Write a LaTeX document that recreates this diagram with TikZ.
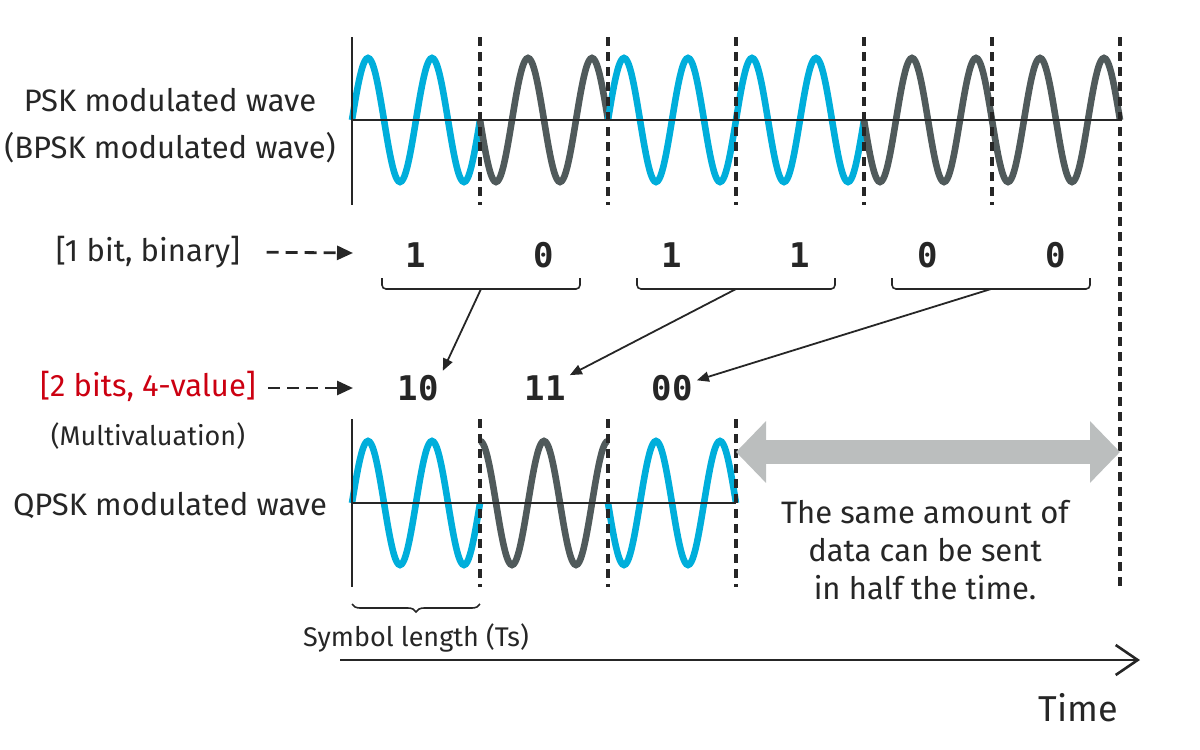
\documentclass[tikz,border=0pt]{standalone}
\usepackage{fontspec}
\setmainfont{Fira Sans}
\newfontfamily\bitfont{DejaVu Sans Mono}
\usetikzlibrary{arrows.meta, positioning, decorations.pathreplacing}
\definecolor{wavecyan}{RGB}{0,174,219}
\definecolor{wavedark}{RGB}{80,90,91}
\definecolor{spangray}{RGB}{187,190,190}
\definecolor{labelred}{RGB}{204,0,17}
\tikzset{
  lbl/.style={font=\fontsize{15.5}{19}\selectfont, text=black!85, inner sep=1pt},
  smalllbl/.style={lbl, font=\fontsize{13.5}{16}\selectfont},
  bit/.style={font=\bitfont\bfseries\fontsize{17}{20}\selectfont, text=black!85, inner sep=2pt},
  wave/.style={line width=3.3pt},
  axisline/.style={line width=1.3pt, draw=black!85},
  sepline/.style={line width=1.8pt, draw=black!85, dash pattern=on 4.5pt off 3pt},
  arrow/.style={-{Triangle[length=6pt,width=5pt]}, line width=0.9pt, draw=black!85},
  dasharrow/.style={-{Triangle[length=8pt,width=7pt]}, line width=1.4pt, draw=black!85, dash pattern=on 6pt off 3.5pt},
  bracket/.style={line width=0.8pt, draw=black!85, rounded corners=2pt},
  bigarrow/.style={{Triangle[length=15pt,width=30pt]}-{Triangle[length=15pt,width=30pt]}, line width=12pt, draw=spangray},
  timearrow/.style={-{Straight Barb[length=11pt,width=15pt]}, line width=1.3pt, draw=black!85}
}

\begin{document}
\begin{tikzpicture}[x=0.5pt, y=-0.5pt]
\useasboundingbox (0,0) rectangle (1200,750);

% PSK wave
\foreach \xa/\ph/\col [evaluate=\xa as \xb using int(\xa+128)] in {352/0/wavecyan, 480/180/wavedark, 608/0/wavecyan, 736/0/wavecyan, 864/180/wavedark, 992/180/wavedark}
  \draw[wave, \col] plot[domain=\xa:\xb, samples=81, smooth] (\x,{120-62*sin(5.625*(\x-\xa)+\ph)});
\draw[axisline] (352,37) -- (352,205);
\draw[axisline] (352,120) -- (1120,120);
\foreach \xs in {480,608,736,864,992}
  \draw[sepline] (\xs,37) -- (\xs,205);
\draw[sepline] (1120,37) -- (1120,590);

% QPSK wave
\foreach \xa/\ph/\col [evaluate=\xa as \xb using int(\xa+128)] in {352/0/wavecyan, 480/90/wavedark, 608/180/wavecyan}
  \draw[wave, \col] plot[domain=\xa:\xb, samples=81, smooth] (\x,{503-62*sin(5.625*(\x-\xa)+\ph)});
\draw[axisline] (352,419) -- (352,587);
\draw[axisline] (352,503) -- (736,503);
\foreach \xs in {480,608,736}
  \draw[sepline] (\xs,419) -- (\xs,587);

% labels on the left
\node[lbl] (psk) at (170,100) {PSK modulated wave};
\node[lbl] (bpsk) at (170,148) {(BPSK modulated wave)};
\node[lbl] (onebit) at (148,252) {[1 bit, binary]};
\node[lbl, text=labelred] (twobit) at (148,386) {[2 bits, 4-value]};
\node[smalllbl] (multi) at (148,436) {(Multivaluation)};
\node[lbl] (qpsk) at (170,505) {QPSK modulated wave};

\coordinate (onebitTo) at (353,253);
\coordinate (twobitTo) at (353,388);
\draw[dasharrow, shorten <=12pt] (onebit.east) -- (onebitTo);
\draw[dasharrow, shorten <=5pt] (twobit.east |- twobitTo) -- (twobitTo);

% bits and pairs
\foreach \b [count=\i] in {1,0,1,1,0,0}
  \node[bit] (b\i) at ({288+128*\i},255) {\b};
\foreach \i/\xl in {1/382, 2/637, 3/892} {
  \draw[bracket] (\xl,278) -- (\xl,289) -- (\xl+198,289) -- (\xl+198,278);
  \coordinate (br\i) at (\xl+99,289);
}
\node[bit] (q10) at (418,388) {10};
\node[bit] (q11) at (545,388) {11};
\node[bit] (q00) at (672,388) {00};
\draw[arrow] (br1) -- (q10.north east);
\draw[arrow] (br2) -- (q11);
\draw[arrow] (br3) -- (q00);

% half the time
\coordinate (spanL) at (736,452);
\coordinate (spanR) at (1120,452);
\draw[bigarrow] (spanL) -- (spanR);
\node[lbl, align=center] (same) at (925,550) {The same amount of\\data can be sent\\in half the time.};

% symbol length and time axis
\draw[decorate, decoration={brace, mirror, amplitude=4pt}, line width=0.8pt, black!85] (352,604) -- (480,604);
\node[smalllbl] (symlen) at (416,638) {Symbol length (Ts)};
\coordinate (tStart) at (340,660);
\coordinate (tEnd) at (1140,660);
\draw[timearrow] (tStart) -- (tEnd);
\node[lbl, font=\fontsize{18}{22}\selectfont] (time) at (1078,708) {Time};

\end{tikzpicture}
\end{document}
